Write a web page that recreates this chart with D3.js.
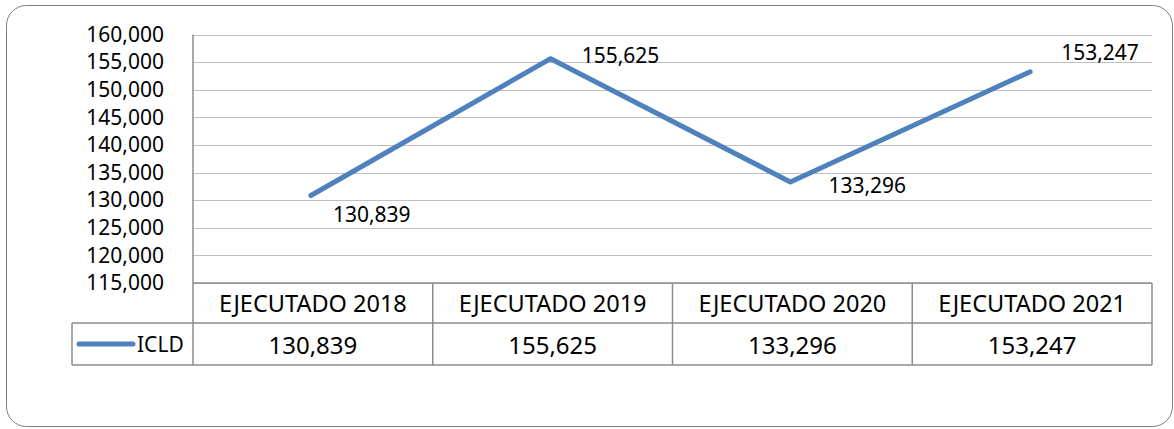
<!DOCTYPE html>
<html>
<head>
<meta charset="utf-8">
<script src="https://cdn.jsdelivr.net/npm/d3@7"></script>
<style>
  body { margin: 0; background: #fff; }
  text { font-family: 'Noto Sans', sans-serif; fill: #000; }
</style>
</head>
<body>
<div id="root"></div>
<script>
const categories = ['EJECUTADO 2018', 'EJECUTADO 2019', 'EJECUTADO 2020', 'EJECUTADO 2021'];
const seriesName = 'ICLD';
const values = [130839, 155625, 133296, 153247];
const tickValues = [115000, 120000, 125000, 130000, 135000, 140000, 145000, 150000, 155000, 160000];

// label offsets relative to each point (px)
const labelOffsets = [[22, 18], [31, -4], [38, 3], [31, -20]];

const width = 1174;
const height = 429;
const plot = { left: 193, right: 1152, top: 34.5, bottom: 283 };
const rowH = [40, 42];
const legendLeft = 72;
const fmt = d3.format(',');

const svg = d3.select('#root').append('svg')
  .attr('width', width)
  .attr('height', height);

svg.append('rect')
  .attr('x', 6.5)
  .attr('y', 5.5)
  .attr('width', 1166)
  .attr('height', 421)
  .attr('rx', 20)
  .attr('fill', '#fff')
  .attr('stroke', '#7f7f7f');

const x = d3.scaleBand()
  .domain(categories)
  .range([plot.left, plot.right]);

const y = d3.scaleLinear()
  .domain([115000, 160000])
  .range([plot.bottom, plot.top]);

// gridlines
svg.append('g')
  .selectAll('line')
  .data(tickValues)
  .enter()
  .append('line')
  .attr('x1', plot.left)
  .attr('x2', plot.right)
  .attr('y1', d => Math.round(y(d)) + 0.5)
  .attr('y2', d => Math.round(y(d)) + 0.5)
  .attr('stroke', '#bfbfbf')
  .attr('stroke-width', 1);

// y axis labels
const yAxis = d3.axisLeft(y)
  .tickValues(tickValues)
  .tickFormat(fmt)
  .tickSize(0)
  .tickPadding(29);

const yg = svg.append('g')
  .attr('transform', `translate(${plot.left}, 0)`)
  .call(yAxis);
yg.select('.domain').remove();
yg.selectAll('text')
  .style('font-size', '21px')
  .style('font-family', "'Noto Sans', sans-serif");

// table lines
const rowTop = plot.bottom;
const rowMid = rowTop + rowH[0];
const rowBot = rowMid + rowH[1];
const tableStroke = '#8c8c8c';
const table = svg.append('g')
  .attr('stroke', tableStroke)
  .attr('stroke-width', 1.5);

table.append('line')
  .attr('x1', plot.left).attr('x2', plot.right)
  .attr('y1', rowTop).attr('y2', rowTop);
table.append('line')
  .attr('x1', legendLeft).attr('x2', plot.right)
  .attr('y1', rowMid).attr('y2', rowMid);
table.append('line')
  .attr('x1', legendLeft).attr('x2', plot.right)
  .attr('y1', rowBot).attr('y2', rowBot);
table.append('line')
  .attr('x1', legendLeft).attr('x2', legendLeft)
  .attr('y1', rowMid).attr('y2', rowBot);
table.append('line')
  .attr('x1', plot.left).attr('x2', plot.left)
  .attr('y1', plot.top).attr('y2', rowBot);
table.selectAll('.sep')
  .data(categories)
  .enter()
  .append('line')
  .attr('class', 'sep')
  .attr('x1', d => x(d) + x.bandwidth())
  .attr('x2', d => x(d) + x.bandwidth())
  .attr('y1', rowTop)
  .attr('y2', rowBot);

// category row
svg.append('g')
  .selectAll('text')
  .data(categories)
  .enter()
  .append('text')
  .attr('x', d => x(d) + x.bandwidth() / 2)
  .attr('y', rowTop + rowH[0] / 2)
  .attr('text-anchor', 'middle')
  .attr('dominant-baseline', 'central')
  .style('font-size', '23.5px')
  .text(d => d);

// values row
svg.append('g')
  .selectAll('text')
  .data(values)
  .enter()
  .append('text')
  .attr('x', (d, i) => x(categories[i]) + x.bandwidth() / 2)
  .attr('y', rowMid + rowH[1] / 2)
  .attr('text-anchor', 'middle')
  .attr('dominant-baseline', 'central')
  .style('font-size', '24px')
  .text(d => fmt(d));

// legend key
const lineColor = '#4f81bd';
svg.append('line')
  .attr('x1', 79).attr('x2', 133)
  .attr('y1', rowMid + rowH[1] / 2).attr('y2', rowMid + rowH[1] / 2)
  .attr('stroke', lineColor)
  .attr('stroke-width', 5)
  .attr('stroke-linecap', 'round');
svg.append('text')
  .attr('x', 137)
  .attr('y', rowMid + rowH[1] / 2)
  .attr('dominant-baseline', 'central')
  .style('font-size', '21px')
  .text(seriesName);

// series line
const line = d3.line()
  .x((d, i) => x(categories[i]) + x.bandwidth() / 2 - 2)
  .y(d => y(d));

svg.append('path')
  .datum(values)
  .attr('d', line)
  .attr('fill', 'none')
  .attr('stroke', lineColor)
  .attr('stroke-width', 5)
  .attr('stroke-linecap', 'round')
  .attr('stroke-linejoin', 'round');

// data labels
svg.append('g')
  .selectAll('text')
  .data(values)
  .enter()
  .append('text')
  .attr('x', (d, i) => x(categories[i]) + x.bandwidth() / 2 - 2 + labelOffsets[i][0])
  .attr('y', (d, i) => y(d) + labelOffsets[i][1])
  .attr('dominant-baseline', 'central')
  .style('font-size', '21px')
  .text(d => fmt(d));
</script>
</body>
</html>
